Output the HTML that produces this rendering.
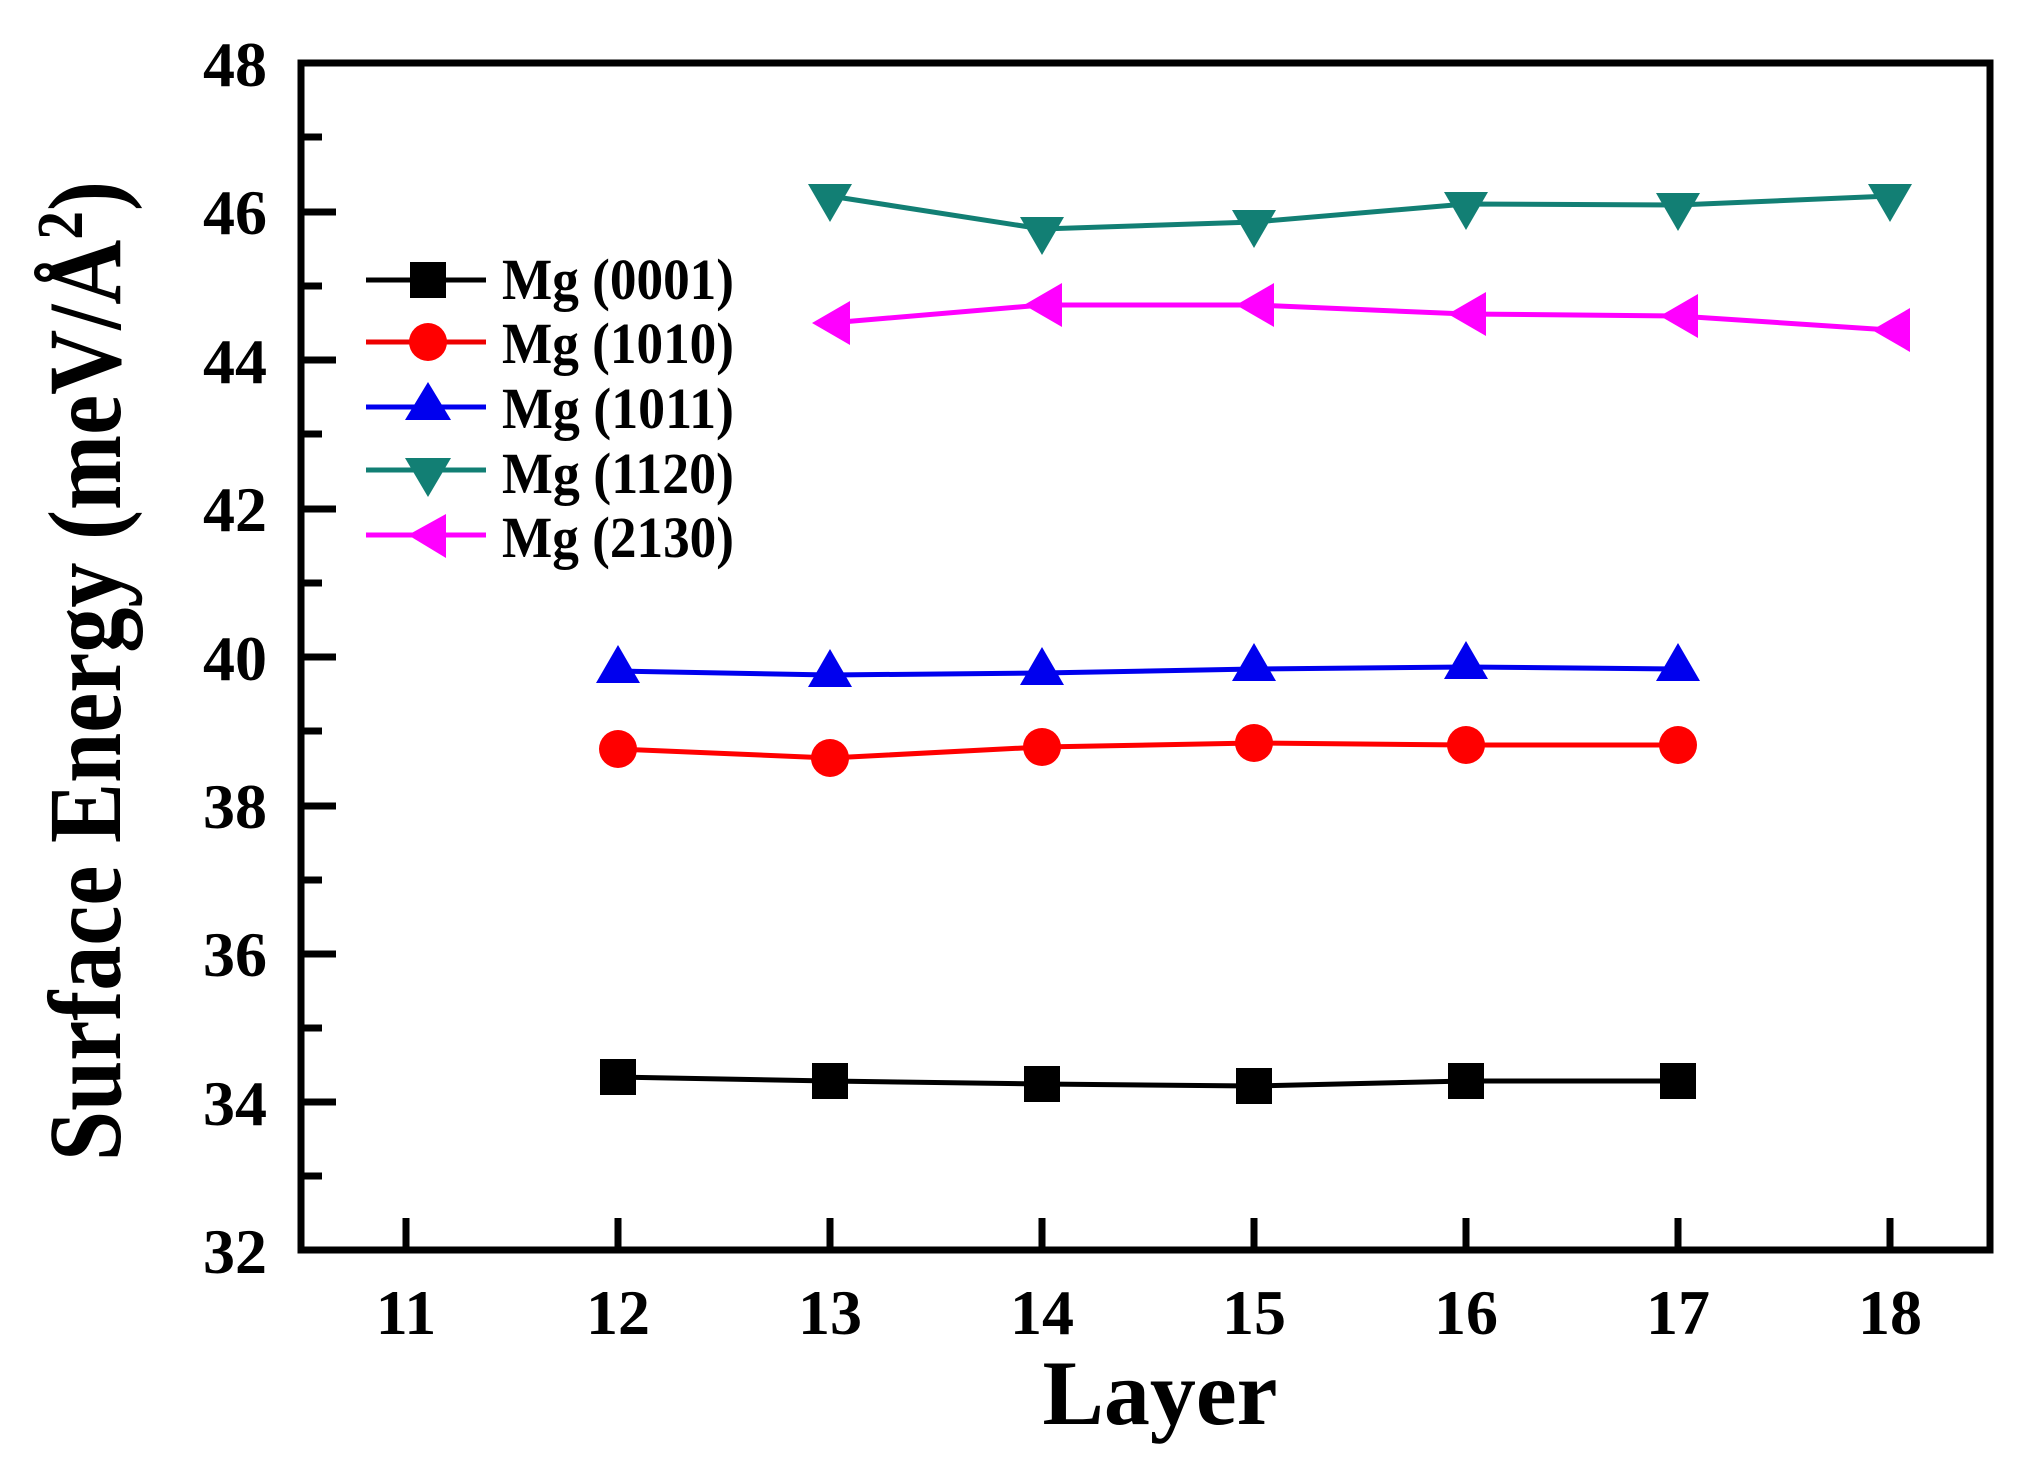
<!DOCTYPE html>
<html><head><meta charset="utf-8"><style>
html,body{margin:0;padding:0;background:#fff;}
svg{display:block;}
text{font-family:"Liberation Serif",serif;font-weight:bold;fill:#000;}
</style></head><body>
<svg width="2026" height="1470" viewBox="0 0 2026 1470" xmlns="http://www.w3.org/2000/svg">
<rect width="2026" height="1470" fill="#fff"/>
<g stroke="#000" stroke-width="7">
<line x1="301" y1="212" x2="336" y2="212"/>
<line x1="301" y1="360" x2="336" y2="360"/>
<line x1="301" y1="509" x2="336" y2="509"/>
<line x1="301" y1="657" x2="336" y2="657"/>
<line x1="301" y1="806" x2="336" y2="806"/>
<line x1="301" y1="954" x2="336" y2="954"/>
<line x1="301" y1="1102" x2="336" y2="1102"/>
<line x1="301" y1="137" x2="322" y2="137"/>
<line x1="301" y1="286" x2="322" y2="286"/>
<line x1="301" y1="434" x2="322" y2="434"/>
<line x1="301" y1="583" x2="322" y2="583"/>
<line x1="301" y1="731" x2="322" y2="731"/>
<line x1="301" y1="880" x2="322" y2="880"/>
<line x1="301" y1="1028" x2="322" y2="1028"/>
<line x1="301" y1="1176" x2="322" y2="1176"/>
<line x1="406" y1="1250" x2="406" y2="1218"/>
<line x1="618" y1="1250" x2="618" y2="1218"/>
<line x1="830" y1="1250" x2="830" y2="1218"/>
<line x1="1042" y1="1250" x2="1042" y2="1218"/>
<line x1="1254" y1="1250" x2="1254" y2="1218"/>
<line x1="1466" y1="1250" x2="1466" y2="1218"/>
<line x1="1678" y1="1250" x2="1678" y2="1218"/>
<line x1="1890" y1="1250" x2="1890" y2="1218"/>
</g>
<rect x="301" y="63" width="1689" height="1187" fill="none" stroke="#000" stroke-width="7"/>
<g font-size="64" text-anchor="end">
<text x="267" y="86">48</text><text x="267" y="234">46</text><text x="267" y="383">44</text>
<text x="267" y="531">42</text><text x="267" y="680">40</text><text x="267" y="828">38</text>
<text x="267" y="976">36</text><text x="267" y="1125">34</text><text x="267" y="1273">32</text>
</g>
<g font-size="64" text-anchor="middle">
<text x="406" y="1334">11</text><text x="618" y="1334">12</text><text x="830" y="1334">13</text>
<text x="1042" y="1334">14</text><text x="1254" y="1334">15</text><text x="1466" y="1334">16</text>
<text x="1678" y="1334">17</text><text x="1890" y="1334">18</text>
</g>
<text x="1160" y="1424" font-size="92" text-anchor="middle">Layer</text>
<text transform="translate(120,671) rotate(-90)" font-size="104" text-anchor="middle" textLength="980" lengthAdjust="spacingAndGlyphs">Surface Energy (meV/Å<tspan font-size="66" dy="-38">2</tspan><tspan dy="38">)</tspan></text>

<polyline fill="none" stroke="#000" stroke-width="5" points="618,1077 830,1081 1042,1084 1254,1086 1466,1081 1678,1081"/>
<g fill="#000">
<rect x="600" y="1059" width="36" height="36"/><rect x="812" y="1063" width="36" height="36"/>
<rect x="1024" y="1066" width="36" height="36"/><rect x="1236" y="1068" width="36" height="36"/>
<rect x="1448" y="1063" width="36" height="36"/><rect x="1660" y="1063" width="36" height="36"/>
</g>
<polyline fill="none" stroke="#f00" stroke-width="5" points="618,749 830,758 1042,747 1254,743 1466,745 1678,745"/>
<g fill="#f00">
<circle cx="618" cy="749" r="19"/><circle cx="830" cy="758" r="19"/><circle cx="1042" cy="747" r="19"/>
<circle cx="1254" cy="743" r="19"/><circle cx="1466" cy="745" r="19"/><circle cx="1678" cy="745" r="19"/>
</g>
<polyline fill="none" stroke="#0000ee" stroke-width="5" points="618,671 830,675 1042,673 1254,669 1466,667 1678,669"/>
<g fill="#0000ee">
<polygon points="618,645 596,683 640,683"/><polygon points="830,649 808,687 852,687"/>
<polygon points="1042,647 1020,685 1064,685"/><polygon points="1254,643 1232,681 1276,681"/>
<polygon points="1466,641 1444,679 1488,679"/><polygon points="1678,643 1656,681 1700,681"/>
</g>
<polyline fill="none" stroke="#127f74" stroke-width="5" points="830,196 1042,229 1254,222 1466,204 1678,205 1890,196"/>
<g fill="#127f74">
<polygon points="808,184 852,184 830,222"/><polygon points="1020,217 1064,217 1042,255"/>
<polygon points="1232,210 1276,210 1254,248"/><polygon points="1444,192 1488,192 1466,230"/>
<polygon points="1656,193 1700,193 1678,231"/><polygon points="1868,184 1912,184 1890,222"/>
</g>
<polyline fill="none" stroke="#f0f" stroke-width="5" points="830,323 1042,305 1254,305 1466,314 1678,316 1890,330"/>
<g fill="#f0f">
<polygon points="812,323 850,301 850,345"/><polygon points="1024,305 1062,283 1062,327"/>
<polygon points="1236,305 1274,283 1274,327"/><polygon points="1448,314 1486,292 1486,336"/>
<polygon points="1660,316 1698,294 1698,338"/><polygon points="1872,330 1910,308 1910,352"/>
</g>
<g stroke-width="5">
<line x1="366" y1="280" x2="486" y2="280" stroke="#000"/>
<line x1="366" y1="342" x2="486" y2="342" stroke="#e00"/>
<line x1="366" y1="407" x2="486" y2="407" stroke="#0000ee"/>
<line x1="366" y1="470" x2="486" y2="470" stroke="#127f74"/>
<line x1="366" y1="535" x2="486" y2="535" stroke="#f0f"/>
</g>
<rect x="410" y="262" width="36" height="36" fill="#000"/>
<circle cx="428" cy="342" r="19" fill="#f00"/>
<polygon points="428,382 405,420 451,420" fill="#0000ee"/>
<polygon points="405,458 451,458 428,497" fill="#127f74"/>
<polygon points="408,535 446,514 446,558" fill="#f0f"/>
<g font-size="58">
<text x="502" y="299" textLength="232" lengthAdjust="spacingAndGlyphs">Mg (0001)</text>
<text x="502" y="363" textLength="232" lengthAdjust="spacingAndGlyphs">Mg (1010)</text>
<text x="502" y="428" textLength="232" lengthAdjust="spacingAndGlyphs">Mg (1011)</text>
<text x="502" y="493" textLength="232" lengthAdjust="spacingAndGlyphs">Mg (1120)</text>
<text x="502" y="557" textLength="232" lengthAdjust="spacingAndGlyphs">Mg (2130)</text>
</g>
</svg>
</body></html>
